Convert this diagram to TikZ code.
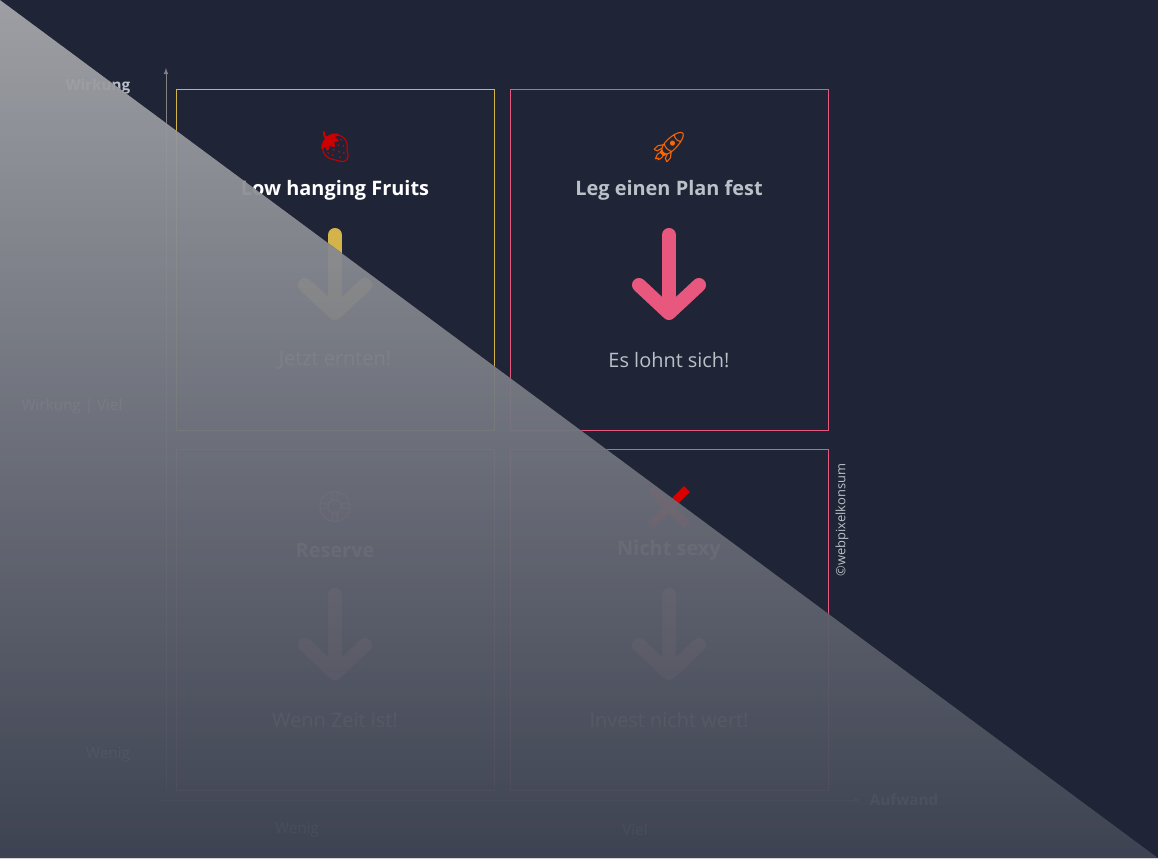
\documentclass[tikz,border=0pt]{standalone}
\usepackage{fontspec}
\setmainfont{Open Sans}
\newfontfamily\emojifont{Noto Emoji}
\usepackage{xcolor}
\definecolor{bgdark}{HTML}{1F2437}
\definecolor{boxyellow}{HTML}{D4B44A}
\definecolor{boxpink}{HTML}{E8577E}
\definecolor{boxrose}{HTML}{B86A80}
\definecolor{textgray}{HTML}{BCC0C7}
\definecolor{veiltop}{HTML}{C8CACF}
\definecolor{veilbot}{HTML}{4E5466}

\tikzset{
	box/.style={draw=#1, line width=0.8pt},
	title/.style={font=\fontsize{17}{20}\selectfont\bfseries, text=textgray},
	sub/.style={font=\fontsize{17}{20}\selectfont, text=textgray},
	lbl/.style={font=\fontsize{13}{16}\selectfont, text=textgray},
	icon/.style={font=\fontsize{26}{30}\selectfont\emojifont, text=#1}
}

\newcommand{\quadarrow}[2]{%
	\draw[color=#2, line width=12pt, line cap=round, line join=round] (#1,235)--(#1,310);
	\draw[color=#2, line width=12pt, line cap=round, line join=round] (#1-30,285)--(#1,313)--(#1+30,285);
}

\begin{document}
\begin{tikzpicture}[x=0.03cm, y=-0.03cm]

\fill[bgdark] (0,0) rectangle (1158,858);
\useasboundingbox (0,0) rectangle (1158,858);

% axes
\draw[color=gray, line width=0.8pt, -latex] (166,790)--(166,68);
\draw[color=gray, line width=0.8pt, -latex] (160,800)--(860,800);

\node[lbl, font=\fontsize{13}{16}\selectfont\bfseries] (yaxis) at (98,87) {Wirkung};
\node[lbl] (yviel) at (72,407) {Wirkung | Viel};
\node[lbl] (ywenig) at (108,755) {Wenig};
\node[lbl] (xwenig) at (297,830) {Wenig};
\node[lbl] (xviel) at (635,830) {Viel};
\node[lbl, font=\fontsize{13}{16}\selectfont\bfseries] (xaxis) at (904,800) {Aufwand};
\node[lbl, font=\fontsize{11}{13}\selectfont, rotate=90] (copy) at (842,520) {©webpixelkonsum};

% quadrant top left
\draw[box=boxyellow] (176,89) rectangle (494,430);
\node[icon=red!80!black] (fruit) at (335,147) {🍓};
\node[title, text=white] (fruittitle) at (335,190) {Low hanging Fruits};
\quadarrow{335}{boxyellow}
\node[sub] (fruitsub) at (335,360) {Jetzt ernten!};

% quadrant top right
\draw[box=boxpink] (510,89) rectangle (828,430);
\node[icon=orange!80!red] (rocket) at (669,147) {🚀};
\node[title] (plantitle) at (669,190) {Leg einen Plan fest};
\quadarrow{669}{boxpink}
\node[sub] (plansub) at (669,360) {Es lohnt sich!};

% quadrant bottom left
\draw[box=boxrose] (176,449) rectangle (494,790);
\node[icon=boxpink] (ring) at (335,507) {🛟};
\node[title] (restitle) at (335,550) {Reserve};
\begin{scope}[yshift=-360*0.03cm]
\quadarrow{335}{boxrose}
\end{scope}
\node[sub] (ressub) at (335,720) {Wenn Zeit ist!};

% quadrant bottom right
\draw[box=boxpink] (510,449) rectangle (828,790);
\draw[color=red!85!black, line width=7pt] (651,489)--(687,525) (651,525)--(687,489);
\node[title] (sexytitle) at (669,550) {Nicht sexy};
\begin{scope}[yshift=-360*0.03cm]
\quadarrow{669}{boxrose}
\end{scope}
\node[sub] (sexysub) at (669,720) {Invest nicht wert!};

% veil
\fill[top color=veiltop, bottom color=veilbot, fill opacity=0.78] (0,0)--(1158,858)--(0,858)--cycle;

\end{tikzpicture}
\end{document}
